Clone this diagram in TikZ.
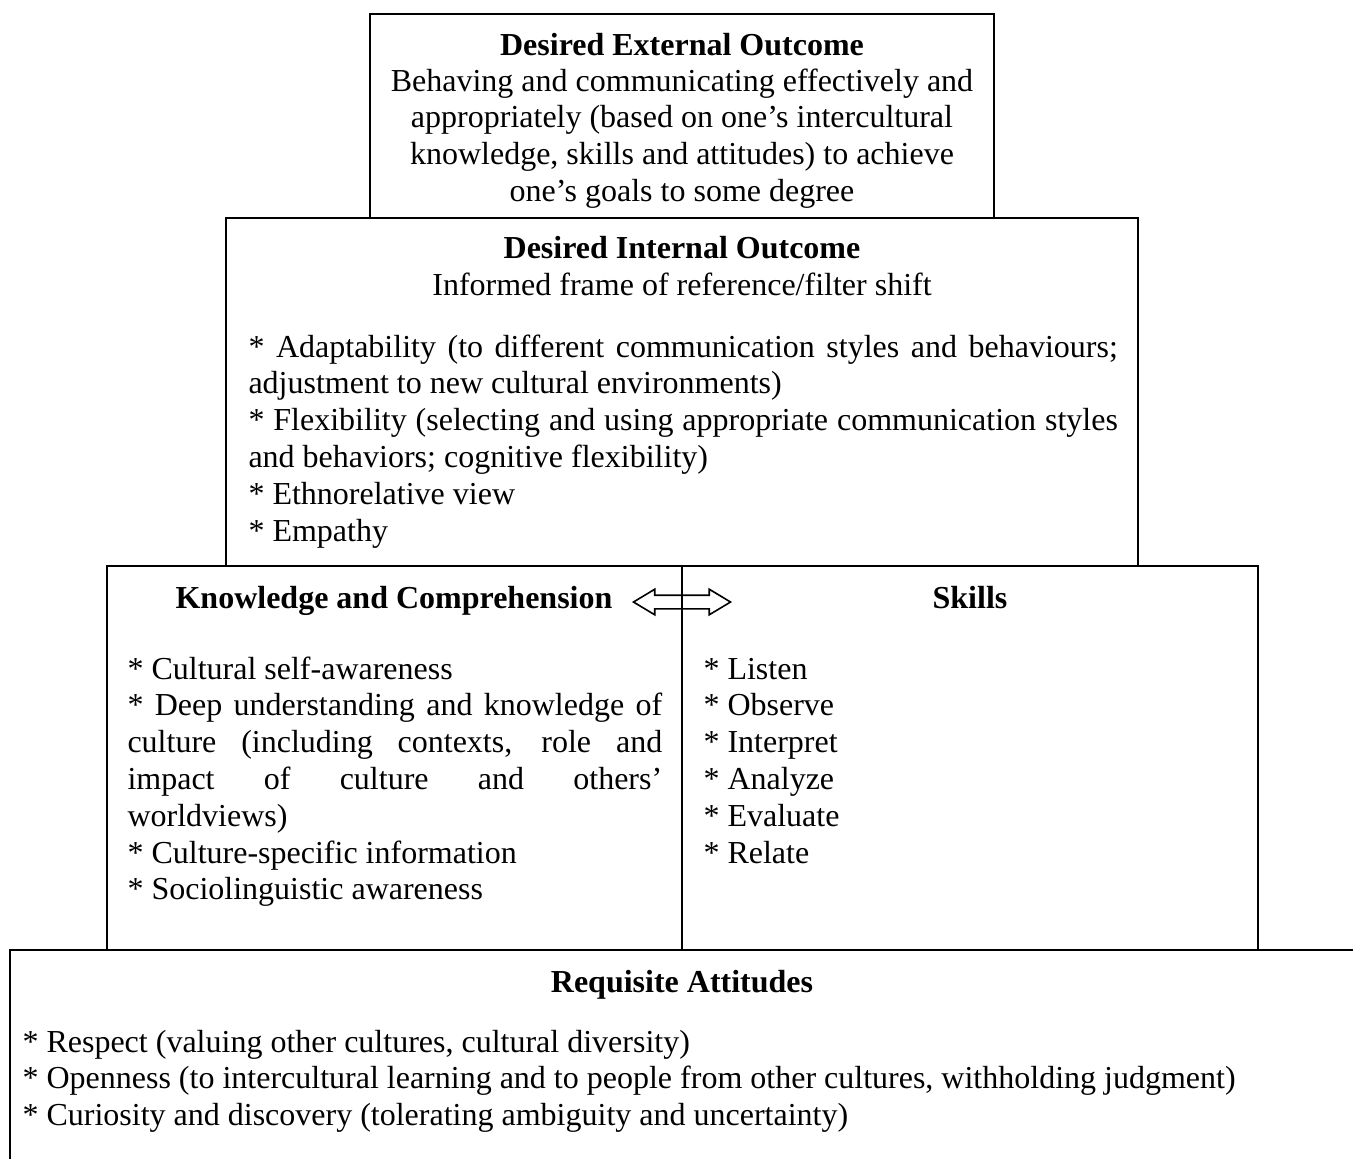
\documentclass[tikz,border=0pt]{standalone}
\usepackage{fontspec}
\setmainfont{Liberation Serif}
\usetikzlibrary{fit,shapes.arrows}
% keep the font's own, rigid interword spacing in ragged or centred nodes
\newcommand\plainspaces{\spaceskip=\fontdimen2\font\relax\xspaceskip=\fontdimen2\font\relax}
\begin{document}
\begin{tikzpicture}[x=0.375pt,y=-0.375pt,
  every node/.style={font=\fontsize{12pt}{13.8pt}\selectfont, inner sep=0pt},
  upperbox/.style={draw, line width=1pt, inner sep=0pt},
  lowerbox/.style={draw, line width=0.8pt, inner sep=0pt},
  heading/.style={font=\fontsize{12pt}{13.8pt}\selectfont\bfseries, anchor=base},
  bodytext/.style={anchor=base west, align=justify},
  listtext/.style={anchor=base west, align=left},
]
\clip (0,0) rectangle (1353,1158);

% frames of the pyramid, top to bottom
\node[upperbox, fit={(370,14) (994,218)}] (ext) {};
\node[upperbox, fit={(226,218) (1138,566)}] (int) {};
\node[lowerbox, fit={(107,566) (682,950)}] (know) {};
\node[lowerbox, fit={(682,566) (1258,950)}] (skills) {};
\node[lowerbox, fit={(10,950) (1420,1220)}] (att) {};

% desired external outcome
\node[heading] (extT) at (682,55) {Desired External Outcome};
\node[anchor=base, text width=234pt, align=center] (extB) at (682,91)
  {\plainspaces Behaving and communicating effectively and\\
   appropriately (based on one’s intercultural\\
   knowledge, skills and attitudes) to achieve\\
   one’s goals to some degree};

% desired internal outcome
\node[heading] (intT) at (682,258) {Desired Internal Outcome};
\node[anchor=base] (intS) at (682,295) {Informed frame of reference/filter shift};
\node[bodytext, text width=326pt] (intB) at (248,357)
  {* Adaptability (to different communication styles and behaviours;\linebreak
   adjustment to new cultural environments)\\{}%
   * Flexibility (selecting and using appropriate communication styles\linebreak
   and behaviors; cognitive flexibility)\\{}%
   * Ethnorelative view\\{}%
   * Empathy};

% knowledge and skills
\node[heading] (knowT) at (394,608) {Knowledge and Comprehension};
\node[heading] (skillsT) at (970,608) {Skills};
\node[double arrow, draw, line width=0.6pt, minimum height=36.4pt,
  minimum width=0pt, inner xsep=0pt, inner ysep=2.25pt,
  double arrow head extend=2.25pt,
  double arrow tip angle=62] (link) at (682,602) {};

\node[bodytext, text width=200.5pt] (knowB) at (127,679)
  {* Cultural self-awareness\\{}%
   * Deep understanding and knowledge of\linebreak
   culture (including contexts, role and\linebreak
   impact of culture and others’\linebreak
   worldviews)\\{}%
   * Culture-specific information\\{}%
   * Sociolinguistic awareness};
\node[listtext, text width=200pt] (skillsB) at (703,679)
  {\plainspaces * Listen\\{}* Observe\\{}* Interpret\\{}* Analyze\\{}* Evaluate\\{}* Relate};

% requisite attitudes
\node[heading] (attT) at (682,992) {Requisite Attitudes};
\node[listtext, text width=480pt] (attB) at (22,1052)
  {\plainspaces * Respect (valuing other cultures, cultural diversity)\\{}%
   * Openness (to intercultural learning and to people from other cultures, withholding judgment)\\{}%
   * Curiosity and discovery (tolerating ambiguity and uncertainty)};
\end{tikzpicture}
\end{document}
